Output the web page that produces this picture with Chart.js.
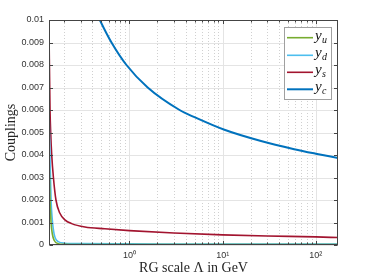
<!DOCTYPE html>
<html><head><meta charset="utf-8">
<script src="https://cdn.jsdelivr.net/npm/chart.js@4/dist/chart.umd.min.js"></script>
<style>html,body{margin:0;padding:0;background:#fff}#wrap{width:374px;height:280px}</style>
</head><body><div id="wrap"><canvas id="c" width="374" height="280"></canvas></div>
<script>
// ---- data ----
const seriesNames = ['u', 'd', 's', 'c'];
const seriesColors = ['#77AC30', '#4DBEEE', '#A2142F', '#0072BD'];

const lamU = [0.137, 0.1405, 0.1441, 0.1486, 0.156, 0.172, 0.203, 0.28, 1, 10, 173];
const yU   = [0.0040, 0.0020, 0.0010, 0.0005, 0.00020, 0.00006, 0.00003, 0.00002, 0.00002, 0.00002, 0.00002];

const lamD = [0.137, 0.1386, 0.1405, 0.1441, 0.1486, 0.156, 0.172, 0.203, 0.28, 1, 10, 173];
const yD   = [0.00616, 0.0050, 0.0038, 0.0020, 0.00112, 0.00046, 0.00015, 0.00008, 0.00006, 0.00005, 0.00004, 0.00004];

const lamS = [0.137, 0.1405, 0.1428, 0.1465, 0.1528, 0.1627, 0.1788, 0.2028, 0.2398, 0.333, 0.544, 1, 3, 10, 30, 100, 173];
const yS   = [0.0095, 0.0060, 0.0050, 0.0040, 0.0030, 0.0020, 0.00142, 0.00112, 0.00095, 0.00080, 0.00072, 0.00064, 0.00053, 0.00045, 0.00040, 0.00036, 0.00033];

const lamC = [0.425, 0.481, 0.642, 0.929, 1.569, 3.45, 4.99, 10.45, 25.8, 58.6, 100, 173];
const yC   = [0.01049, 0.0100, 0.0090, 0.0080, 0.0070, 0.0060, 0.00568, 0.00512, 0.00462, 0.00426, 0.00406, 0.00387];

const xTickValues = [1, 10, 100];
const xTickLabels = ['10\u2070', '10\u00B9', '10\u00B2'];
const yTickLabels = ['0', '0.001', '0.002', '0.003', '0.004', '0.005', '0.006', '0.007', '0.008', '0.009', '0.01'];
const xMinorValues = [0.2,0.3,0.4,0.5,0.6,0.7,0.8,0.9,2,3,4,5,6,7,8,9,20,30,40,50,60,70,80,90];
const xTitle = 'RG scale \u039B in GeV';
const yTitle = 'Couplings';

const zip = (xs, ys) => xs.map((x, i) => ({x: x, y: ys[i]}));
const lams = [lamU, lamD, lamS, lamC];
const vals = [yU, yD, yS, yC];
const widths = [1.6, 1.6, 1.6, 2];

const datasets = seriesNames.map((n, i) => ({
  label: 'y_' + n,
  data: zip(lams[i], vals[i]),
  borderColor: seriesColors[i],
  backgroundColor: seriesColors[i],
  borderWidth: widths[i],
  pointRadius: 0,
  cubicInterpolationMode: 'monotone',
  fill: false
}));

const decor = {
  id: 'decor',
  beforeDraw(chart) {
    const ctx = chart.ctx;
    ctx.save(); ctx.fillStyle = '#fff'; ctx.fillRect(0, 0, chart.width, chart.height); ctx.restore();
  },
  beforeDatasetsDraw(chart) {
    const ctx = chart.ctx, a = chart.chartArea, xs = chart.scales.x, ys = chart.scales.y;
    ctx.save();
    ctx.lineWidth = 1;
    ctx.strokeStyle = '#d0d0d0';
    ctx.setLineDash([1, 2]);
    xMinorValues.forEach(v => {
      const px = Math.round(xs.getPixelForValue(v)) + 0.5;
      if (px < a.left || px > a.right) return;
      ctx.beginPath(); ctx.moveTo(px, a.top); ctx.lineTo(px, a.bottom); ctx.stroke();
    });
    ctx.setLineDash([]);
    ctx.strokeStyle = '#e4e4e4';
    xTickValues.forEach(v => {
      const px = Math.round(xs.getPixelForValue(v)) + 0.5;
      ctx.beginPath(); ctx.moveTo(px, a.top); ctx.lineTo(px, a.bottom); ctx.stroke();
    });
    ys.ticks.forEach(t => {
      const py = Math.round(ys.getPixelForValue(t.value)) + 0.5;
      ctx.beginPath(); ctx.moveTo(a.left, py); ctx.lineTo(a.right, py); ctx.stroke();
    });
    ctx.restore();
  },
  afterDraw(chart) {
    const ctx = chart.ctx, a = chart.chartArea, xs = chart.scales.x, ys = chart.scales.y;
    ctx.save();
    ctx.strokeStyle = '#444';
    ctx.lineWidth = 1;
    const L = Math.round(a.left) + 0.5, R = Math.round(a.right) - 0.5, T = Math.round(a.top) + 0.5, B = Math.round(a.bottom) - 0.5;
    ctx.strokeRect(L, T, R - L, B - T);
    ctx.beginPath();
    xTickValues.forEach(v => {
      const px = Math.round(xs.getPixelForValue(v)) + 0.5;
      ctx.moveTo(px, B); ctx.lineTo(px, B - 3.5);
      ctx.moveTo(px, T); ctx.lineTo(px, T + 3.5);
    });
    xMinorValues.forEach(v => {
      const px = Math.round(xs.getPixelForValue(v)) + 0.5;
      if (px < a.left || px > a.right) return;
      ctx.moveTo(px, B); ctx.lineTo(px, B - 2);
      ctx.moveTo(px, T); ctx.lineTo(px, T + 2);
    });
    ys.ticks.forEach(t => {
      const py = Math.round(ys.getPixelForValue(t.value)) + 0.5;
      ctx.moveTo(L, py); ctx.lineTo(L + 3.5, py);
      ctx.moveTo(R, py); ctx.lineTo(R - 3.5, py);
    });
    ctx.stroke();

    ctx.fillStyle = '#262626';
    ctx.font = '14px "Liberation Serif"';
    ctx.textAlign = 'center'; ctx.textBaseline = 'middle';
    ctx.fillText(xTitle, (a.left + a.right) / 2, 268);
    ctx.save();
    ctx.translate(11, (a.top + a.bottom) / 2);
    ctx.rotate(-Math.PI / 2);
    ctx.fillText(yTitle, 0, 0);
    ctx.restore();

    const bx = 284.5, by = 27.5, bw = 47, bh = 72;
    ctx.fillStyle = '#fff';
    ctx.fillRect(bx, by, bw, bh);
    ctx.strokeStyle = '#a0a0a0';
    ctx.strokeRect(bx, by, bw, bh);
    const rowY = [37.7, 55.3, 72.3, 89.3];
    seriesNames.forEach((n, i) => {
      const y = rowY[i];
      ctx.strokeStyle = seriesColors[i];
      ctx.lineWidth = widths[i];
      ctx.beginPath(); ctx.moveTo(287, y); ctx.lineTo(313, y); ctx.stroke();
      ctx.fillStyle = '#111';
      ctx.textAlign = 'left'; ctx.textBaseline = 'alphabetic';
      ctx.font = 'italic 15px "Liberation Serif"';
      ctx.fillText('y', 315, y + 2);
      ctx.font = 'italic 10px "Liberation Serif"';
      ctx.fillText(n, 322, y + 5);
    });
    ctx.restore();
  }
};

new Chart(document.getElementById('c'), {
  type: 'line',
  data: { datasets: datasets },
  options: {
    responsive: false,
    animation: false,
    devicePixelRatio: 1,
    layout: { padding: { top: 20, right: 36, left: 0, bottom: 0 } },
    plugins: { legend: { display: false }, tooltip: { enabled: false } },
    scales: {
      x: {
        type: 'logarithmic',
        min: 0.137, max: 173,
        grid: { display: false, drawTicks: false },
        border: { display: false },
        afterBuildTicks: s => { s.ticks = xTickValues.map(v => ({ value: v })); },
        afterFit: s => { s.height = 35; },
        ticks: {
          autoSkip: false, maxRotation: 0, padding: 5,
          color: '#333', font: { family: 'Liberation Sans', size: 9 },
          callback: (v) => { const k = xTickValues.indexOf(v); return k >= 0 ? xTickLabels[k] : ''; }
        }
      },
      y: {
        type: 'linear',
        min: 0, max: 0.01,
        grid: { display: false, drawTicks: false },
        border: { display: false },
        afterFit: s => { s.width = 49; },
        ticks: {
          stepSize: 0.001, padding: 5,
          color: '#333', font: { family: 'Liberation Sans', size: 9 },
          callback: (v, i) => yTickLabels[i]
        }
      }
    }
  },
  plugins: [decor]
});
</script>
</body></html>
